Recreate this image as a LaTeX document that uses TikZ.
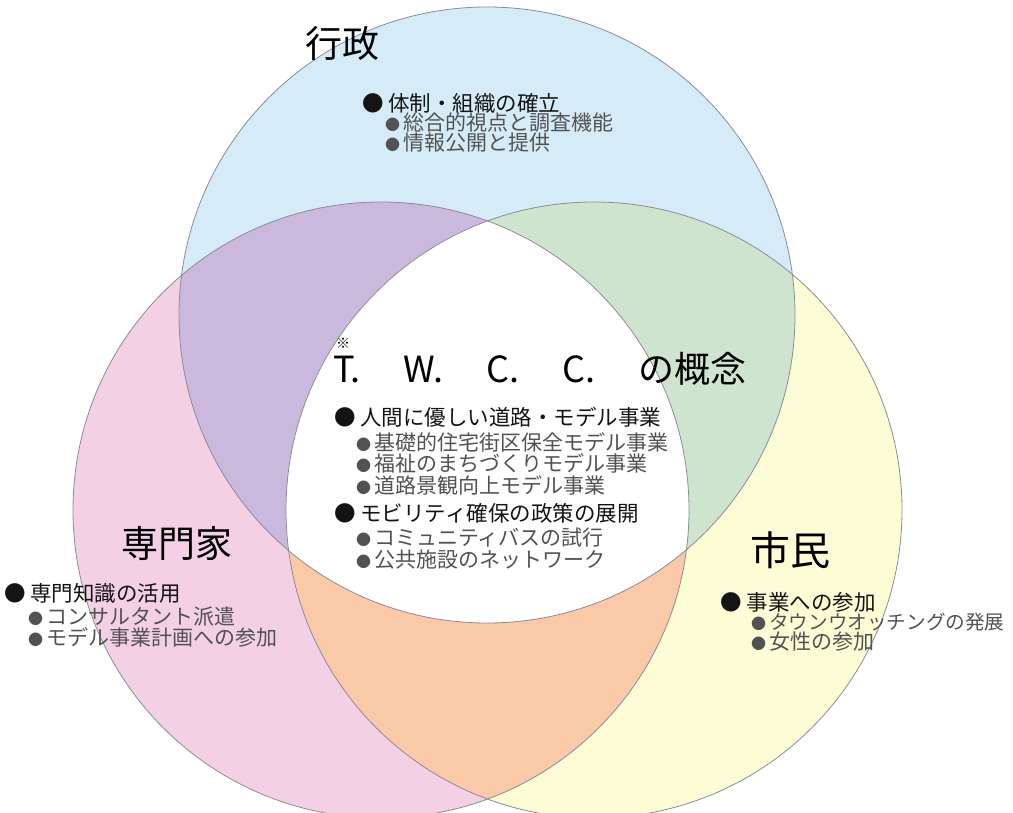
\documentclass[tikz,border=0pt]{standalone}
\usepackage{fontspec}
\setmainfont{Noto Sans CJK JP}
\newcommand\myfs[1]{\fontsize{#1}{#1}\selectfont}
\newcommand\subbul{{\myfs{15}●}\hspace{3pt}}
\definecolor{cblue}{HTML}{D5ECF8}
\definecolor{cpink}{HTML}{F3D0E4}
\definecolor{cyellow}{HTML}{FDFDD5}
\definecolor{cpurple}{HTML}{CBB9DD}
\definecolor{cgreen}{HTML}{CFE4CF}
\definecolor{corange}{HTML}{F9C9A8}
\definecolor{cline}{HTML}{8C8C98}
\tikzset{
  ring/.style={draw=cline, line width=0.8pt},
  title/.style={inner sep=0pt, font=\myfs{37}, text=black},
  mainitem/.style={anchor=west, inner sep=0pt, font=\myfs{21.5}, text=black!92},
  subitem/.style={anchor=west, inner sep=0pt, font=\myfs{21}, text=black!68},
}
\begin{document}
\begin{tikzpicture}[x=1pt,y=-1pt]
\useasboundingbox (0,0) rectangle (1013,813);
\fill[white] (0,0) rectangle (1013,813);
\coordinate (T) at (487,315);
\coordinate (L) at (381,510);
\coordinate (R) at (594,510);
\def\rr{308pt}
% base fills
\fill[cblue] (T) circle[radius=\rr];
\fill[cpink] (L) circle[radius=\rr];
\fill[cyellow] (R) circle[radius=\rr];
% pairwise
\begin{scope}
  \clip (T) circle[radius=\rr];
  \fill[cpurple] (L) circle[radius=\rr];
\end{scope}
\begin{scope}
  \clip (T) circle[radius=\rr];
  \fill[cgreen] (R) circle[radius=\rr];
\end{scope}
\begin{scope}
  \clip (L) circle[radius=\rr];
  \fill[corange] (R) circle[radius=\rr];
\end{scope}
\begin{scope}
  \clip (T) circle[radius=\rr];
  \clip (L) circle[radius=\rr];
  \fill[white] (R) circle[radius=\rr];
\end{scope}
% outlines
\draw[ring] (T) circle[radius=\rr];
\draw[ring] (L) circle[radius=\rr];
\draw[ring] (R) circle[radius=\rr];
% titles
\node[title] (gyosei) at (342,43) {行政};
\node[title] (senmonka) at (177,543) {専門家};
\node[title, font=\myfs{40}] (shimin) at (790,550) {市民};
% top block
\node[mainitem] (t1) at (362,103) {● 体制・組織の確立};
\node[subitem] (t2) at (385,123) {\subbul 総合的視点と調査機能};
\node[subitem] (t3) at (385,143) {\subbul 情報公開と提供};
% center block
\node[inner sep=0pt, font=\myfs{14}] (kome) at (343,343) {※};
\node[anchor=west, inner sep=0pt, font=\myfs{36}] (twcc) at (333,369) {\spaceskip=43pt T. W. C. C. の概念};
\node[mainitem] (c1) at (334,417) {● 人間に優しい道路・モデル事業};
\node[subitem] (c2) at (356,442) {\subbul 基礎的住宅街区保全モデル事業};
\node[subitem] (c3) at (356,463) {\subbul 福祉のまちづくりモデル事業};
\node[subitem] (c4) at (356,485) {\subbul 道路景観向上モデル事業};
\node[mainitem] (c5) at (334,513) {● モビリティ確保の政策の展開};
\node[subitem] (c6) at (356,538) {\subbul コミュニティバスの試行};
\node[subitem] (c7) at (356,560) {\subbul 公共施設のネットワーク};
% left block
\node[mainitem] (l1) at (4,593) {● 専門知識の活用};
\node[subitem] (l2) at (28,617) {\subbul コンサルタント派遣};
\node[subitem] (l3) at (28,637) {\subbul モデル事業計画への参加};
% right block
\node[mainitem] (r1) at (720,602) {● 事業への参加};
\node[subitem, font=\myfs{19.6}] (r2) at (751,622) {\subbul タウンウオッチングの発展};
\node[subitem] (r3) at (751,642) {\subbul 女性の参加};
\end{tikzpicture}
\end{document}
